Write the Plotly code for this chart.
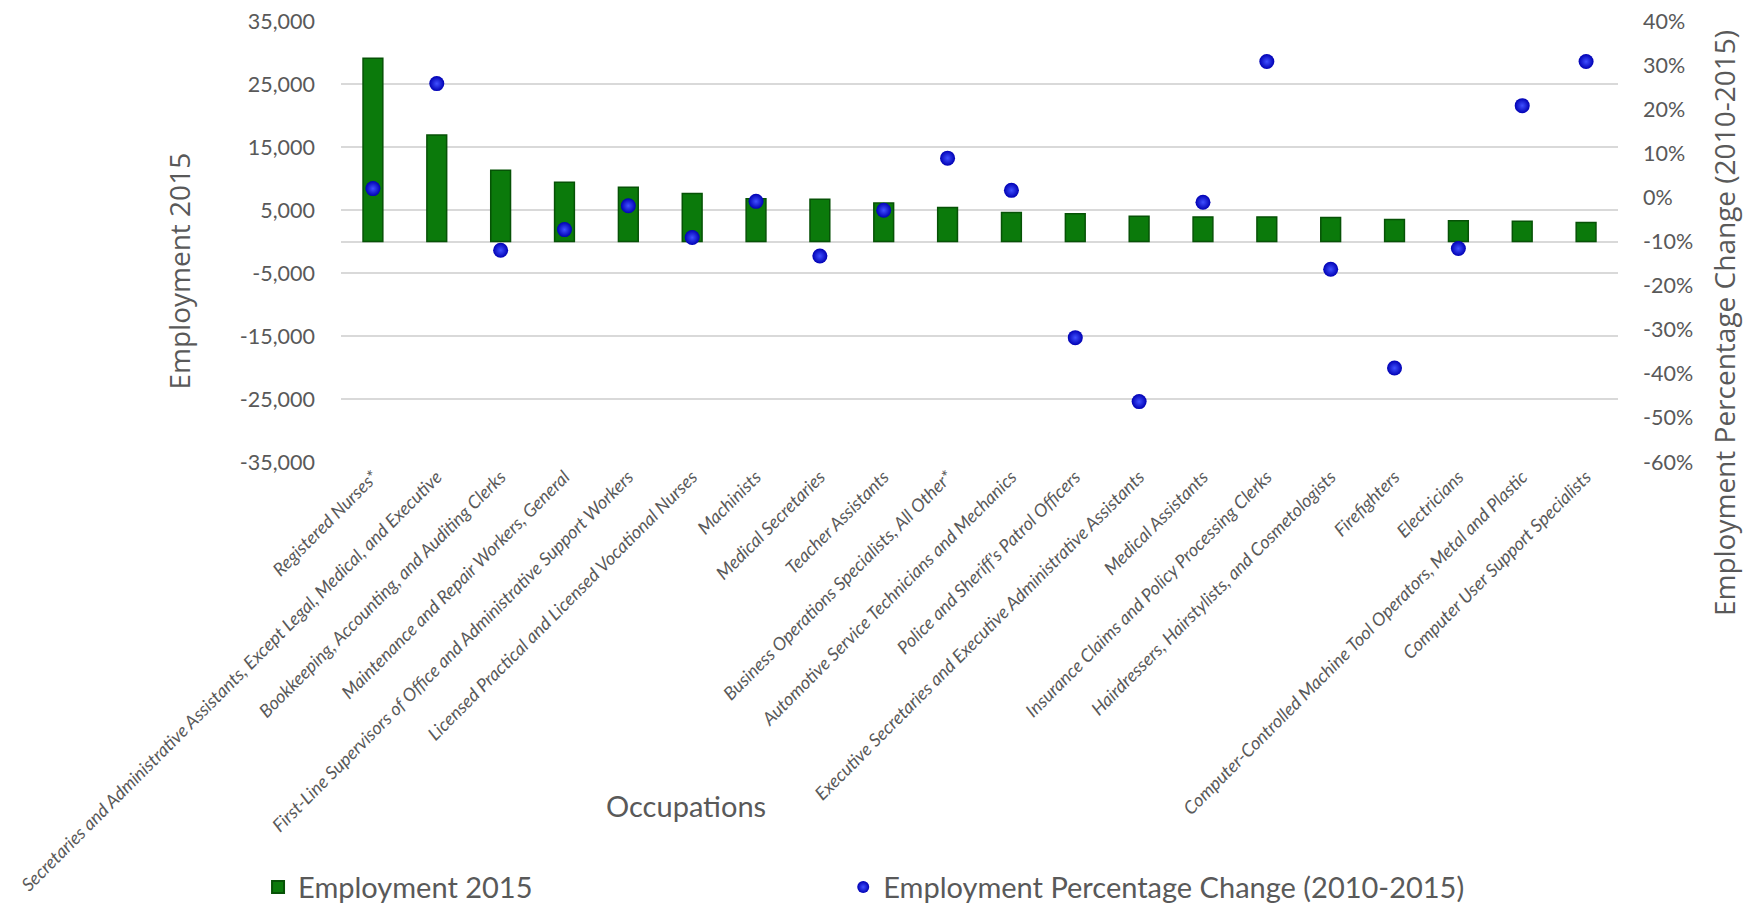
import plotly.graph_objects as go

occupations = [
    "Registered Nurses*",
    "Secretaries and Administrative Assistants, Except Legal, Medical, and Executive",
    "Bookkeeping, Accounting, and Auditing Clerks",
    "Maintenance and Repair Workers, General",
    "First-Line Supervisors of Office and Administrative Support Workers",
    "Licensed Practical and Licensed Vocational Nurses",
    "Machinists",
    "Medical Secretaries",
    "Teacher Assistants",
    "Business Operations Specialists, All Other*",
    "Automotive Service Technicians and Mechanics",
    "Police and Sheriff's Patrol Officers",
    "Executive Secretaries and Executive Administrative Assistants",
    "Medical Assistants",
    "Insurance Claims and Policy Processing Clerks",
    "Hairdressers, Hairstylists, and Cosmetologists",
    "Firefighters",
    "Electricians",
    "Computer-Controlled Machine Tool Operators, Metal and Plastic",
    "Computer User Support Specialists",
]

employment_2015 = [29100, 16900, 11300, 9400, 8600, 7600, 6800, 6700, 6100, 5400,
                   4600, 4400, 4000, 3900, 3900, 3800, 3500, 3300, 3200, 3000]

pct_change = [0.020, 0.258, -0.120, -0.073, -0.019, -0.091, -0.009, -0.133, -0.029, 0.089,
              0.016, -0.318, -0.463, -0.011, 0.308, -0.163, -0.387, -0.116, 0.208, 0.308]

left_ticks = [35000, 25000, 15000, 5000, -5000, -15000, -25000, -35000]
right_ticks = [0.4, 0.3, 0.2, 0.1, 0.0, -0.1, -0.2, -0.3, -0.4, -0.5, -0.6]
left_ticktext = [f"{v:,}" for v in left_ticks]
right_ticktext = [f"{round(v * 100)}%" for v in right_ticks]

# page body has an 8px margin, so the figure is 8px smaller
W, H = 1751, 899
fig = go.Figure()

fig.add_trace(go.Bar(
    x=occupations, y=employment_2015, name="Employment 2015",
    marker=dict(color="#0b7a0b", line=dict(color="#065206", width=1.5)),
    width=0.31, yaxis="y", legend="legend",
))
fig.add_trace(go.Scatter(
    x=occupations, y=pct_change, name="Employment Percentage Change (2010-2015)",
    mode="markers", yaxis="y2", legend="legend2",
    marker=dict(size=15, color="#0000b4",
                gradient=dict(type="radial", color="#4050ff"),
                line=dict(width=0)),
))

grey = "#595959"
tick_font = dict(family="Lato", size=21.5, color=grey)
narrow_font = dict(family="Lato", size=29, color=grey)

legend_common = dict(orientation="h", xref="container", yref="container",
                     xanchor="left", yanchor="middle", font=narrow_font,
                     bgcolor="rgba(0,0,0,0)", itemsizing="constant")

fig.update_layout(
    width=W, height=H,
    margin=dict(l=333, r=141, t=13, b=445, autoexpand=False),
    paper_bgcolor="white", plot_bgcolor="white",
    showlegend=True,
    legend=dict(x=0.1428, y=0.022, **legend_common),
    legend2=dict(x=0.477, y=0.022, **legend_common),
    xaxis=dict(tickangle=-45, tickfont=dict(family="Lato", size=18, color=grey, style="italic"),
               showgrid=False, showline=False, ticks="", range=[-0.5, 19.5],
               ticklabeloverflow="allow"),
    yaxis=dict(range=[-35000, 35000], tickvals=left_ticks, ticktext=left_ticktext,
               showgrid=True, gridcolor="#d9d9d9", gridwidth=1.5,
               zeroline=True, zerolinecolor="#d9d9d9", zerolinewidth=1.5,
               tickfont=tick_font, ticklabelstandoff=25, ticklabeloverflow="allow"),
    yaxis2=dict(range=[-0.6, 0.4], tickvals=right_ticks, ticktext=right_ticktext,
                overlaying="y", side="right", showgrid=False, zeroline=False,
                tickfont=tick_font, ticklabelstandoff=24, ticklabeloverflow="allow"),
    annotations=[
        dict(text="Occupations", xref="paper", yref="paper", x=0.27, y=-0.779,
             xanchor="center", yanchor="middle", showarrow=False, font=narrow_font),
        dict(text="Employment 2015", xref="paper", yref="paper", x=-0.1265, y=0.433,
             xanchor="center", yanchor="middle", showarrow=False, textangle=-90,
             font=dict(family="Open Sans", size=28, color=grey)),
        dict(text="Employment Percentage Change (2010-2015)", xref="paper", yref="paper",
             x=1.083, y=0.315, xanchor="center", yanchor="middle", showarrow=False,
             textangle=-90, font=dict(family="Open Sans", size=28, color=grey)),
    ],
)

fig.write_html("out.html")
